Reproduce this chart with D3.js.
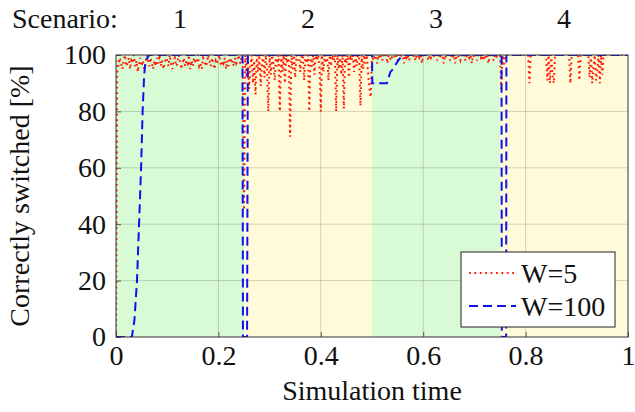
<!DOCTYPE html>
<html>
<head>
<meta charset="utf-8">
<script src="https://cdn.jsdelivr.net/npm/d3@7"></script>
<style>
  body { margin: 0; background: #fff; }
  svg { display: block; }
</style>
</head>
<body>
<svg width="635" height="412"></svg>
<script>
// scenario bands and labels
var scenarios = ["1", "2", "3", "4"];
var bandStart = [0, 0.25, 0.5, 0.75];
var bandEnd = [0.25, 0.5, 0.75, 1];
var bandColor = ["#d8fbd6", "#fffbd8", "#d8fbd6", "#fffbd8"];

var xTicks = [0, 0.2, 0.4, 0.6, 0.8, 1];
var yTicks = [0, 20, 40, 60, 80, 100];

// W=5, sampled every 0.0025 of simulation time, one array per scenario
var w5Step = 0.0025;
var w5s1 = [0,
  98,96,99,97,95,98,100,96,97,99,95,98,97,100,96,98,94,97,99,96,
  98,95,97,100,98,96,99,97,95,98,96,99,97,100,96,98,95,97,99,98,
  96,100,97,95,98,99,96,97,100,98,95,97,99,96,98,97,100,95,98,96,
  99,97,98,100,96,97,95,99,98,96,97,100,98,96,99,97,95,98,97,99,
  100,96,98,97,99,95,98,96,100,97,98,96,99,97,98,100,97,99,98];
var w5s2 = [45,100,
  92,100,88,96,100,90,98,86,100,94,100,89,97,100,92,100,95,
  80,100,93,100,97,91,100,96,100,
  80,100,94,100,90,100,97,100,
  71,100,95,100,92,100,98,100,94,100,100,91,100,97,100,
  80,100,96,100,93,100,98,100,95,
  80,100,94,100,97,100,91,100,96,100,98,100,
  80,100,95,100,93,100,
  81,100,97,100,92,100,98,100,94,100,96,100,99,
  82,100,95,100,97,100,93,88,85];
var w5s3 = [
  100,98,100,99,97,100,99,100,98,100,99,100,97,100,99,98,100,100,99,100,
  98,100,99,100,100,97,100,99,100,98,100,100,99,100,98,100,100,99,100,97,
  100,99,100,100,98,100,99,100,100,99,100,98,100,99,100,100,97,100,99,100,
  100,98,100,99,100,97,100,100,99,98,100,99,100,98,100,100,99,100,97,100,
  99,100,98,100,100,99,100,98,100,99,100,97,100,99,100,98,100,99,100,100];
var w5s4 = [
  100,88,100,96,100,100,100,100,100,100,
  100,100,100,100,100,100,100,100,100,100,
  100,100,100,90,100,100,100,100,100,100,
  100,100,100,100,100,100,100,91,100,90,
  100,93,90,100,100,100,100,100,100,100,
  100,100,100,100,100,90,100,100,100,100,
  100,100,91,100,100,100,100,100,100,100,
  92,100,90,96,100,91,94,100,90,100,
  93,100,100,100,100,100,100,100,100,100,
  100,100,100,100,100,100,100,100,100,100,100];

// W=100, breakpoints
var w100x = [0, 0.031, 0.036, 0.041, 0.045, 0.049, 0.052, 0.055, 0.058, 0.065,
  0.247, 0.248, 0.256, 0.2575, 0.5, 0.5005, 0.529, 0.536, 0.541, 0.551, 0.56,
  0.753, 0.7535, 0.762, 0.7625, 1];
var w100y = [0, 0, 6, 20, 40, 60, 80, 93, 98, 100,
  100, 0, 0, 100, 100, 90, 90, 94, 95, 98, 100,
  100, 0, 0, 100, 100];

var w5 = [].concat(w5s1, w5s2, w5s3, w5s4).map(function (v, i) {
    return { x: i * w5Step, y: v };
});
var w100 = w100x.map(function (x, i) { return { x: x, y: w100y[i] }; });

var fs = 28;
var svg = d3.select("svg");
var margin = { left: 116, right: 7, top: 55, bottom: 75 };
var width = 635 - margin.left - margin.right,
    height = 412 - margin.top - margin.bottom;

var x = d3.scaleLinear().domain([0, 1]).range([0, width]);
var y = d3.scaleLinear().domain([0, 100]).range([height, 0]);

var g = svg.append("g").attr("transform", "translate(" + margin.left + "," + margin.top + ")");

svg.append("defs").append("clipPath").attr("id", "clip")
    .append("rect").attr("width", width).attr("height", height);

//background bands
g.selectAll("rect.band")
    .data(scenarios)
    .enter().append("rect")
    .attr("class", "band")
    .attr("x", function (d, i) { return x(bandStart[i]); })
    .attr("width", function (d, i) { return x(bandEnd[i]) - x(bandStart[i]); })
    .attr("y", 0)
    .attr("height", height)
    .attr("fill", function (d, i) { return bandColor[i]; });

//grid
g.append("g").selectAll("line")
    .data(xTicks.slice(1, -1))
    .enter().append("line")
    .attr("x1", function (d) { return x(d); })
    .attr("x2", function (d) { return x(d); })
    .attr("y1", 0).attr("y2", height)
    .attr("stroke", "#000").attr("stroke-opacity", 0.17);
g.append("g").selectAll("line")
    .data(yTicks.slice(1, -1))
    .enter().append("line")
    .attr("y1", function (d) { return y(d); })
    .attr("y2", function (d) { return y(d); })
    .attr("x1", 0).attr("x2", width)
    .attr("stroke", "#000").attr("stroke-opacity", 0.17);

//axes with inward ticks
var xAxis = g.append("g").attr("transform", "translate(0," + height + ")")
    .call(d3.axisBottom(x).tickValues(xTicks).tickFormat(d3.format("")).tickSizeInner(-5).tickSizeOuter(0).tickPadding(8));
var yAxis = g.append("g")
    .call(d3.axisLeft(y).tickValues(yTicks).tickSizeInner(-5).tickSizeOuter(0).tickPadding(10));
[xAxis, yAxis].forEach(function (a) {
    a.select(".domain").remove();
    a.selectAll(".tick line").attr("stroke", "#555");
    a.selectAll("text").attr("fill", "#111");
});
xAxis.selectAll("text").attr("dy", "0.71em");

//lines
var line = d3.line()
    .x(function (d) { return x(d.x); })
    .y(function (d) { return y(d.y); });

var plot = g.append("g").attr("clip-path", "url(#clip)");
plot.append("path")
    .datum(w5)
    .attr("d", line)
    .attr("fill", "none")
    .attr("stroke", "#ff1a00")
    .attr("stroke-width", 2)
    .attr("stroke-dasharray", "1.8,3.6");
plot.append("path")
    .datum(w100)
    .attr("d", line)
    .attr("fill", "none")
    .attr("stroke", "#1010ee")
    .attr("stroke-width", 2)
    .attr("stroke-dasharray", "9,5");

//frame
g.append("rect")
    .attr("width", width).attr("height", height)
    .attr("fill", "none").attr("stroke", "#333").attr("stroke-width", 1);

//axis labels
svg.append("text")
    .attr("x", margin.left + width / 2)
    .attr("y", 400)
    .attr("text-anchor", "middle")
    .attr("fill", "#111")
    .text("Simulation time");
svg.append("text")
    .attr("transform", "translate(29," + (margin.top + height / 2) + ") rotate(-90)")
    .attr("text-anchor", "middle")
    .attr("fill", "#111")
    .text("Correctly switched [%]");

//scenario header
svg.append("text")
    .attr("x", 12).attr("y", 28)
    .attr("fill", "#111")
    .text("Scenario:");
svg.selectAll("text.scen")
    .data(scenarios)
    .enter().append("text")
    .attr("class", "scen")
    .attr("x", function (d, i) { return margin.left + x((bandStart[i] + bandEnd[i]) / 2); })
    .attr("y", 28)
    .attr("text-anchor", "middle")
    .attr("fill", "#111")
    .text(function (d) { return d; });

//legend
var legendNames = ["W=5", "W=100"];
var legendColor = ["#ff1a00", "#1010ee"];
var legendDash = ["1.8,3.6", "9,5"];
var leg = svg.append("g").attr("transform", "translate(461,252)");
leg.append("rect")
    .attr("width", 154).attr("height", 75)
    .attr("fill", "#fff").attr("stroke", "#222");
var item = leg.selectAll("g.item")
    .data(legendNames)
    .enter().append("g")
    .attr("class", "item")
    .attr("transform", function (d, i) { return "translate(0," + (21 + i * 33) + ")"; });
item.append("line")
    .attr("x1", 8).attr("x2", 55)
    .attr("stroke", function (d, i) { return legendColor[i]; })
    .attr("stroke-width", 2)
    .attr("stroke-dasharray", function (d, i) { return legendDash[i]; });
item.append("text")
    .attr("x", 60).attr("dy", "0.35em")
    .attr("fill", "#111")
    .text(function (d) { return d; });

//every text in the same serif face
svg.selectAll("text")
    .attr("font-family", "Liberation Serif, Times New Roman, serif")
    .attr("font-size", fs);
</script>
</body>
</html>
